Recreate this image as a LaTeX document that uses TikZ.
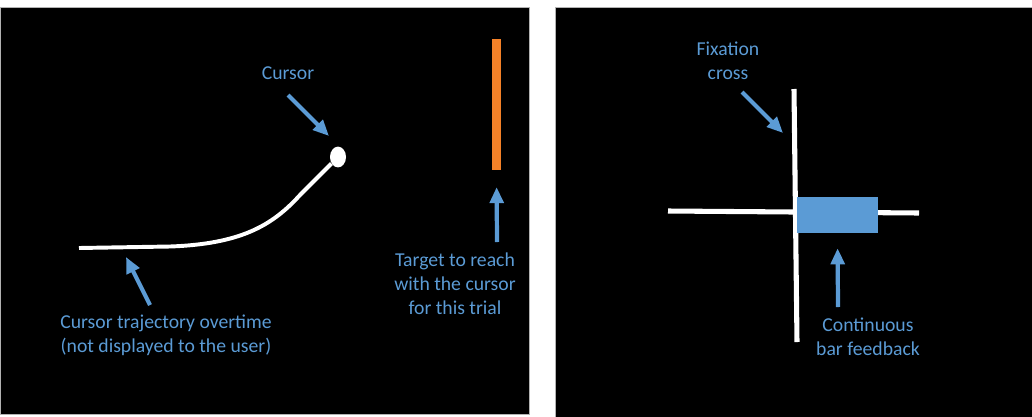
\documentclass[tikz,border=0pt]{standalone}
\usepackage{fontspec}
\setmainfont{Carlito}
\usepackage{xcolor}
\usetikzlibrary{arrows.meta,shapes.geometric}
\definecolor{callblue}{RGB}{91,155,213}
\definecolor{targetorange}{RGB}{245,130,40}

\begin{document}
\begin{tikzpicture}[x=0.025cm,y=-0.025cm,
    calltext/.style={text=callblue,font=\fontsize{14}{17.2}\selectfont,align=center,inner sep=0pt},
    callout/.style={callblue,line width=3pt,-{Triangle[length=4mm,width=3.4mm]}},
    crossline/.style={white,line width=3.6pt}]
    \useasboundingbox (0,0) rectangle (1032,416);
    \fill[white] (0,0) rectangle (1032,416);

    % Screens
    \fill[black,draw=gray!60,line width=0.5pt] (0,7) rectangle (529,414);
    \fill[black,draw=gray!60,line width=0.5pt] (555,7) rectangle (1032,417);

    % Trajectory and cursor
    \node[ellipse,fill=white,minimum width=0.4cm,minimum height=0.52cm,inner sep=0pt] (cursor) at (338,157) {};
    \draw[white,line width=2.8pt] (79,248) -- (170,246.5) .. controls (240,244) and (272,226) .. (300,195) -- (cursor);

    % Target
    \node[fill=targetorange,minimum width=0.225cm,minimum height=3.275cm,inner sep=0pt] (target) at (496.5,104.5) {};

    % Labels (left)
    \node[calltext] (cursorlbl) at (288,73) {Cursor};
    \node[calltext] (tgtlbl) at (455,284) {Target to reach\\with the cursor\\for this trial};
    \node[calltext] (trajlbl) at (166,335.5) {Cursor trajectory overtime\\(not displayed to the user)};

    % Arrows (left)
    \coordinate (cursortail) at (288,95);
    \coordinate (cursortip) at (329,136);
    \draw[callout] (cursortail) -- (cursortip);
    \coordinate (tgttail) at (497,242);
    \draw[callout,shorten >=0.42cm] (tgttail) -- (target.south);
    \coordinate (trajtail) at (150,305);
    \coordinate (trajtip) at (126,257);
    \draw[callout] (trajtail) -- (trajtip);

    % Fixation cross
    \draw[crossline] (668,211) -- (919,213);
    \draw[crossline] (794,89) -- (797,342);

    % Bar feedback
    \node[fill=callblue,minimum width=2.025cm,minimum height=0.9cm,inner sep=0pt] (bar) at (837.5,215) {};

    % Labels (right)
    \node[calltext] (fixlbl) at (728,60.5) {Fixation\\cross};
    \node[calltext] (barlbl) at (868,337) {Continuous\\bar feedback};

    % Arrows (right)
    \coordinate (fixtail) at (742,92);
    \coordinate (fixtip) at (783,133);
    \draw[callout] (fixtail) -- (fixtip);
    \coordinate (bartail) at (838,307);
    \draw[callout,shorten >=0.375cm] (bartail) -- (bar.south);
\end{tikzpicture}
\end{document}
